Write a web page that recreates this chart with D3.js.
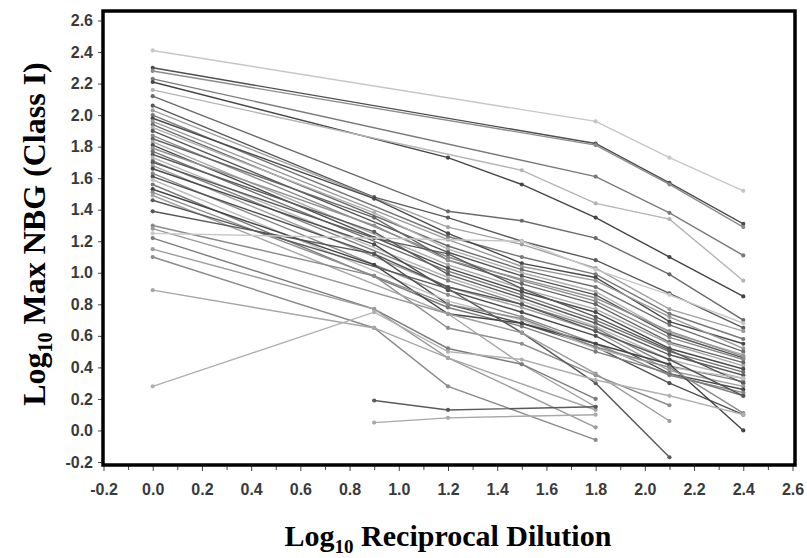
<!DOCTYPE html>
<html>
<head>
<meta charset="utf-8">
<script src="https://cdn.jsdelivr.net/npm/d3@7"></script>
<style>
  body { margin: 0; background: #fff; }
  .tick text { font-family: "Liberation Sans", Arial, sans-serif; font-weight: bold; font-size: 16px; fill: #3a3a3a; }
  .tick line { stroke: #444; }
  .title { font-family: "Liberation Serif", "Times New Roman", serif; font-weight: bold; font-size: 30px; fill: #000; }
</style>
</head>
<body>
<div id="chart"></div>
<script>
// dilution levels (x) and tick values
const dilutions = [0, 0.9, 1.2, 1.5, 1.8, 2.1, 2.4];
const xTicks = [-0.2, 0.0, 0.2, 0.4, 0.6, 0.8, 1.0, 1.2, 1.4, 1.6, 1.8, 2.0, 2.2, 2.4, 2.6];
const yTicks = [-0.2, 0.0, 0.2, 0.4, 0.6, 0.8, 1.0, 1.2, 1.4, 1.6, 1.8, 2.0, 2.2, 2.4, 2.6];

// one row per sample, one value per dilution (null = not measured)
const nbgValues = [
  [2.41, null, null, null, 1.96, 1.73, 1.52],
  [2.30, null, null, null, 1.82, 1.57, 1.31],
  [2.28, null, null, null, 1.81, 1.56, 1.29],
  [2.23, null, null, null, 1.61, 1.38, 1.11],
  [2.21, null, 1.73, 1.56, 1.35, 1.10, 0.85],
  [2.16, null, null, 1.65, 1.44, 1.34, 0.95],
  [2.12, null, 1.39, 1.33, 1.22, 0.99, 0.70],
  [2.06, 1.48, 1.35, 1.20, 1.08, 0.87, 0.65],
  [2.03, null, 1.29, 1.18, 1.03, 0.77, 0.63],
  [2.00, null, 1.23, 1.10, 0.99, 0.74, 0.58],
  [1.98, 1.47, 1.25, 1.06, 0.97, 0.69, 0.55],
  [1.96, null, 1.21, 1.04, 0.95, 0.72, 0.52],
  [1.94, null, 1.17, 1.02, 0.91, 0.67, 0.50],
  [1.92, 1.38, 1.15, 1.00, 0.88, 0.62, 0.48],
  [1.90, null, 1.13, 0.98, 0.86, 0.61, 0.46],
  [1.87, null, 1.10, 0.95, 0.82, 0.59, 0.45],
  [1.85, 1.35, 1.08, 0.93, 0.80, 0.56, 0.43],
  [1.83, null, 1.05, 0.90, 0.77, 0.55, 0.41],
  [1.81, null, 1.03, 0.88, 0.75, 0.52, 0.39],
  [1.79, 1.30, 1.08, 0.96, 0.84, 0.63, 0.47],
  [1.77, null, 1.01, 0.86, 0.70, 0.50, 0.37],
  [1.75, 1.26, 0.99, 0.84, 0.68, 0.48, 0.35],
  [1.73, null, 0.97, 0.82, 0.66, 0.45, 0.33],
  [1.71, null, 0.95, 0.80, 0.65, 0.41, 0.31],
  [1.70, 1.22, 1.12, 0.90, 0.72, 0.51, 0.30],
  [1.68, null, 0.91, 0.78, 0.63, 0.38, 0.28],
  [1.66, 1.18, 0.89, 0.75, 0.60, 0.36, 0.26],
  [1.63, null, 0.86, 0.72, 0.55, 0.35, 0.24],
  [1.61, 1.12, 0.80, 0.68, 0.53, 0.30, 0.10],
  [1.59, null, 0.82, 0.70, 0.52, 0.40, 0.33],
  [1.56, null, 0.78, 0.66, 0.50, 0.36, 0.22],
  [1.53, 1.05, 0.74, 0.68, 0.55, 0.42, 0.00],
  [1.51, 0.98, 0.65, 0.55, 0.35, 0.16, null],
  [1.49, null, 0.74, 0.42, 0.15, null, null],
  [1.46, null, 0.90, 0.62, 0.30, -0.17, null],
  [1.39, 1.12, 0.91, 0.80, 0.63, 0.45, 0.22],
  [1.30, 0.98, 0.80, 0.71, 0.53, 0.40, 0.11],
  [1.28, null, 0.74, 0.62, 0.36, 0.06, null],
  [1.25, null, null, 1.20, 1.02, 0.86, 0.68],
  [1.22, 0.77, 0.52, 0.42, 0.20, null, null],
  [1.15, 0.77, 0.46, null, 0.02, null, null],
  [1.10, 0.65, 0.28, null, -0.06, null, null],
  [0.89, 0.65, 0.46, null, 0.13, null, null],
  [0.28, 0.75, 0.50, 0.45, 0.32, 0.22, 0.10],
  [null, 0.19, 0.13, null, 0.15, null, null],
  [null, 0.05, 0.08, null, 0.10, null, null]
];

// grey shade of each sample, same order as nbgValues
const shades = [
  "#c6c6c6", "#4e4e4e", "#8c8c8c", "#7a7a7a", "#444444", "#b4b4b4", "#6a6a6a", "#5a5a5a",
  "#a0a0a0", "#777777", "#4a4a4a", "#9a9a9a", "#6e6e6e", "#b0b0b0", "#555555", "#8a8a8a",
  "#666666", "#a8a8a8", "#4c4c4c", "#929292", "#707070", "#5c5c5c", "#b6b6b6", "#7e7e7e",
  "#585858", "#9e9e9e", "#4a4a4a", "#888888", "#505050", "#bdbdbd", "#7a7a7a", "#454545",
  "#8e8e8e", "#a4a4a4", "#5a5a5a", "#555555", "#8a8a8a", "#9a9a9a", "#c8c8c8", "#7c7c7c",
  "#9c9c9c", "#8a8a8a", "#a6a6a6", "#b0b0b0", "#5a5a5a", "#a8a8a8"
];

const width = 807;
const height = 558;

const svg = d3.select("#chart")
  .append("svg")
  .attr("width", width)
  .attr("height", height);

const x = d3.scaleLinear().domain([-0.2, 2.6]).range([103.5, 792.5]);
const y = d3.scaleLinear().domain([-0.2, 2.6]).range([462, 20.5]);

// lines + points
const line = d3.line()
  .x(d => x(d[0]))
  .y(d => y(d[1]));

const samples = nbgValues.map(row => row
  .map((v, i) => [dilutions[i], v])
  .filter(d => d[1] !== null));

const groups = svg.append("g")
  .selectAll("g")
  .data(samples)
  .enter()
  .append("g")
  .attr("stroke", (d, i) => shades[i])
  .attr("fill", (d, i) => shades[i]);

groups.append("path")
  .attr("d", d => line(d))
  .attr("fill", "none")
  .attr("stroke-width", 1.4);

groups.selectAll("circle")
  .data(d => d)
  .enter()
  .append("circle")
  .attr("cx", d => x(d[0]))
  .attr("cy", d => y(d[1]))
  .attr("r", 2.1)
  .attr("stroke", "none");

// axes
const xMinor = svg.append("g")
  .attr("transform", "translate(0,465)")
  .call(d3.axisBottom(x).tickValues(d3.range(-0.1, 2.6, 0.2)).tickSize(5).tickFormat(""));
xMinor.select(".domain").remove();

const xAxis = svg.append("g")
  .attr("transform", "translate(0,465)")
  .call(d3.axisBottom(x).tickValues(xTicks).tickSize(6).tickPadding(13).tickFormat(d => d.toFixed(1)));
xAxis.select(".domain").remove();

const yAxis = svg.append("g")
  .attr("transform", "translate(103,0)")
  .call(d3.axisLeft(y).tickValues(yTicks).tickSize(5).tickPadding(5).tickFormat(d => d.toFixed(1)));
yAxis.select(".domain").remove();

// frame
svg.append("rect")
  .attr("x", 103)
  .attr("y", 11)
  .attr("width", 692)
  .attr("height", 454)
  .attr("fill", "none")
  .attr("stroke", "#000")
  .attr("stroke-width", 3.5);

// titles
const xTitle = svg.append("text")
  .attr("class", "title")
  .attr("x", 448)
  .attr("y", 546)
  .attr("text-anchor", "middle");
xTitle.append("tspan").text("Log");
xTitle.append("tspan").attr("dy", 7).style("font-size", "19px").text("10");
xTitle.append("tspan").attr("dy", -7).text(" Reciprocal Dilution");

const yTitle = svg.append("text")
  .attr("class", "title")
  .style("font-size", "32px")
  .attr("transform", "translate(45,234) rotate(-90)")
  .attr("text-anchor", "middle");
yTitle.append("tspan").text("Log");
yTitle.append("tspan").attr("dy", 7).style("font-size", "20px").text("10");
yTitle.append("tspan").attr("dy", -7).text(" Max NBG (Class I)");
</script>
</body>
</html>
